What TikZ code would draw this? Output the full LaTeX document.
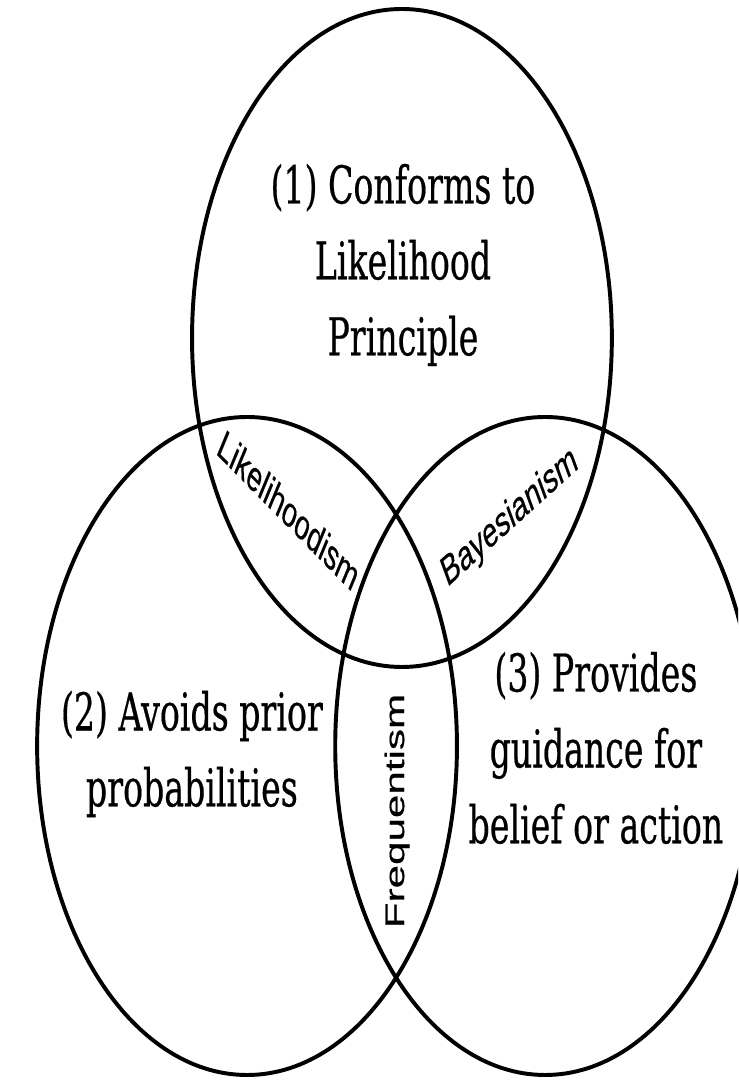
\documentclass[tikz,border=0pt]{standalone}
\usepackage{fontspec}
\setmainfont[FakeBold=0.6]{DejaVu Serif}
\newfontfamily\lensfont[FakeBold=0.5]{Liberation Sans}
\usepackage{tikz}

\tikzset{
  venn/.style={line width=2.8pt, black},
  claim/.style={font=\fontsize{37}{54}\selectfont, align=center, inner sep=0pt, transform shape},
  school/.style={font=\lensfont\fontsize{30}{36}\selectfont, inner sep=0pt, transform shape}
}

\begin{document}
\begin{tikzpicture}[xscale=0.638]
  \clip (0,0) rectangle (28.92,27);
  \fill[white] (0,0) rectangle (28.92,27);
  \coordinate (c1) at (15.75,18.55);
  \coordinate (c2) at (9.68,8.35);
  \coordinate (c3) at (21.36,8.35);
  \foreach \c in {c1,c2,c3}
    \draw[venn] (\c) circle[radius=8.225];

  \node[claim] (conforms) at (15.79,20.375) {(1) Conforms to\\Likelihood\\Principle};
  \node[claim] (avoids) at (7.52,8.15) {(2) Avoids prior\\probabilities};
  \node[claim] (provides) at (23.35,8.3) {(3) Provides\\guidance for\\belief or action};

  \node[school, rotate=-33] (likeli) at (11.32,14.25) {Likelihoodism};
  \node[school, rotate=30] (bayes) at (19.98,14.05) {Bayesianism};
  \node[school, rotate=90] (freq) at (15.56,6.725) {Frequentism};
\end{tikzpicture}
\end{document}
